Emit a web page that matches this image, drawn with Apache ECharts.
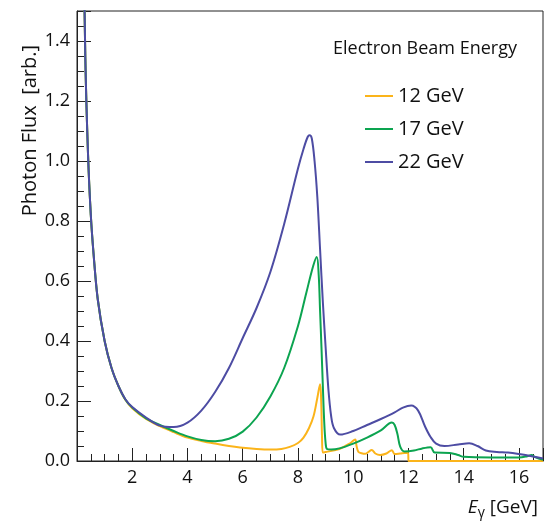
<!DOCTYPE html>
<html><head><meta charset="utf-8">
<script src="https://cdn.jsdelivr.net/npm/echarts@6/dist/echarts.min.js"></script>
<style>html,body{margin:0;padding:0;background:#fff}#c{width:545px;height:523px}</style>
</head><body><div id="c"></div>
<script>
// ---- data ----
const seriesNames = ['12 GeV', '17 GeV', '22 GeV'];
const x12 = [0.2,0.3,0.4,0.5,0.6,0.75,1.0,1.25,1.5,1.75,2.0,2.5,3.0,3.5,4.0,4.5,5.0,5.5,5.9,6.5,7.0,7.4,7.7,8.0,8.2,8.4,8.56,8.7,8.8,8.84,8.87,8.9,9.0,9.5,9.9,10.07,10.12,10.19,10.3,10.43,10.55,10.67,10.8,10.97,11.2,11.4,11.5,11.7,11.87,11.99,12.0,16.87];
const y12 = [2.0,1.35,1.02,0.82,0.69,0.54,0.40,0.31,0.25,0.204,0.176,0.14,0.116,0.096,0.078,0.067,0.058,0.05,0.045,0.04,0.038,0.04,0.047,0.06,0.078,0.11,0.148,0.21,0.256,0.2,0.08,0.028,0.03,0.04,0.06,0.072,0.05,0.03,0.026,0.024,0.03,0.037,0.025,0.02,0.025,0.036,0.023,0.025,0.027,0.027,0,0];
const x17 = [0.2,0.3,0.4,0.5,0.6,0.75,1.0,1.25,1.5,1.75,2.0,2.5,3.0,3.5,4.0,4.5,5.0,5.5,6.0,6.5,7.0,7.5,8.0,8.3,8.55,8.68,8.75,8.8,8.85,8.9,8.95,9.0,9.05,9.2,9.5,10.0,10.5,11.0,11.4,11.5,11.6,11.7,11.85,12.2,12.5,12.8,12.95,13.5,13.8,14.0,15.0,16.0,16.3,16.45,16.6,16.87];
const y17 = [2.0,1.35,1.02,0.82,0.69,0.54,0.40,0.31,0.25,0.205,0.178,0.142,0.12,0.1,0.082,0.07,0.066,0.074,0.098,0.145,0.215,0.31,0.45,0.56,0.65,0.68,0.62,0.5,0.38,0.25,0.13,0.06,0.04,0.038,0.042,0.058,0.078,0.102,0.128,0.12,0.09,0.048,0.032,0.035,0.042,0.046,0.028,0.027,0.02,0.014,0.012,0.012,0.016,0.02,0.012,0.004];
const x22 = [0.2,0.3,0.4,0.5,0.6,0.75,1.0,1.25,1.5,1.75,2.0,2.5,3.0,3.5,4.0,4.5,5.0,5.5,6.0,6.5,7.0,7.5,8.0,8.2,8.35,8.42,8.5,8.6,8.7,8.8,8.9,9.0,9.1,9.2,9.3,9.53,10.0,10.5,11.0,11.5,11.8,12.1,12.35,12.6,12.8,13.0,13.3,13.8,14.2,14.5,14.8,15.2,15.6,16.0,16.5,16.87];
const y22 = [2.0,1.35,1.02,0.82,0.69,0.54,0.40,0.31,0.25,0.206,0.18,0.145,0.118,0.113,0.128,0.168,0.23,0.31,0.41,0.51,0.63,0.79,0.975,1.04,1.08,1.086,1.075,1.0,0.88,0.705,0.53,0.38,0.24,0.15,0.11,0.088,0.1,0.12,0.14,0.162,0.178,0.185,0.168,0.115,0.08,0.058,0.05,0.055,0.059,0.05,0.035,0.03,0.028,0.023,0.015,0.008];
const xTicks = [2,4,6,8,10,12,14,16];
const yTicks = [0.0,0.2,0.4,0.6,0.8,1.0,1.2,1.4];
const colors = ['#fbb41a', '#0ca450', '#4d4ca3'];

const FONT = 'Open Sans';
function pairs(xs, ys){ return xs.map((v,i)=>[v, ys[i]]); }
const dataSets = [pairs(x12,y12), pairs(x17,y17), pairs(x22,y22)];

const chart = echarts.init(document.getElementById('c'), null, {renderer:'canvas'});
chart.setOption({
  animation: false,
  backgroundColor: '#fff',
  grid: {left: 77, top: 11, right: 2, bottom: 62, show: true, borderColor: '#222', borderWidth: 1},
  legend: {
    orient: 'vertical', left: 360, top: 81, itemWidth: 28, itemHeight: 2, itemGap: 13,
    icon: 'rect',
    textStyle: {fontFamily: FONT, fontSize: 20, color: '#111'},
    data: seriesNames
  },
  xAxis: {
    type: 'value', min: 0, max: 16.87, interval: 2,
    axisLine: {lineStyle: {color: '#222', width: 1}},
    axisTick: {inside: true, length: 13, lineStyle: {color: '#222'}},
    minorTick: {show: true, splitNumber: 4, length: 7, lineStyle: {color: '#222'}},
    splitLine: {show: false},
    axisLabel: {fontFamily: FONT, fontSize: 18, color: '#111', margin: 8, showMinLabel: false, showMaxLabel: false,
      formatter: v => xTicks.includes(v) ? String(v) : ''}
  },
  yAxis: {
    type: 'value', min: 0, max: 1.5, interval: 0.2,
    axisLine: {lineStyle: {color: '#222', width: 1}},
    axisTick: {inside: true, length: 14, lineStyle: {color: '#222'}},
    minorTick: {show: true, splitNumber: 4, length: 7, lineStyle: {color: '#222'}},
    splitLine: {show: false},
    axisLabel: {fontFamily: FONT, fontSize: 18, color: '#111', margin: 7, showMaxLabel: false,
      formatter: v => yTicks.some(t => Math.abs(t - v) < 1e-6) ? v.toFixed(1) : ''}
  },
  series: seriesNames.map((n, i) => ({
    name: n, type: 'line', data: dataSets[i], symbol: 'none', smooth: 0.35, clip: true,
    lineStyle: {color: colors[i], width: 2}, itemStyle: {color: colors[i]}
  })),
  graphic: [
    {type: 'text', left: 333, top: 40, style: {text: 'Electron Beam Energy', fontFamily: FONT, fontSize: 18, fill: '#111'}},
    {type: 'text', x: 30, y: 45, rotation: Math.PI/2,
      style: {text: 'Photon Flux  [arb.]', fontFamily: FONT, fontSize: 20, fill: '#111', align: 'right', verticalAlign: 'middle'}},
    {type: 'text', x: 538, y: 508,
      style: {text: '{i|E}{s|γ} [GeV]', fontFamily: FONT, fontSize: 19, fill: '#111', align: 'right', verticalAlign: 'middle',
        rich: {i: {fontStyle: 'italic', fontFamily: FONT, fontSize: 19}, s: {fontFamily: FONT, fontSize: 14, padding: [10,0,0,0]}}}}
  ]
});
</script></body></html>
